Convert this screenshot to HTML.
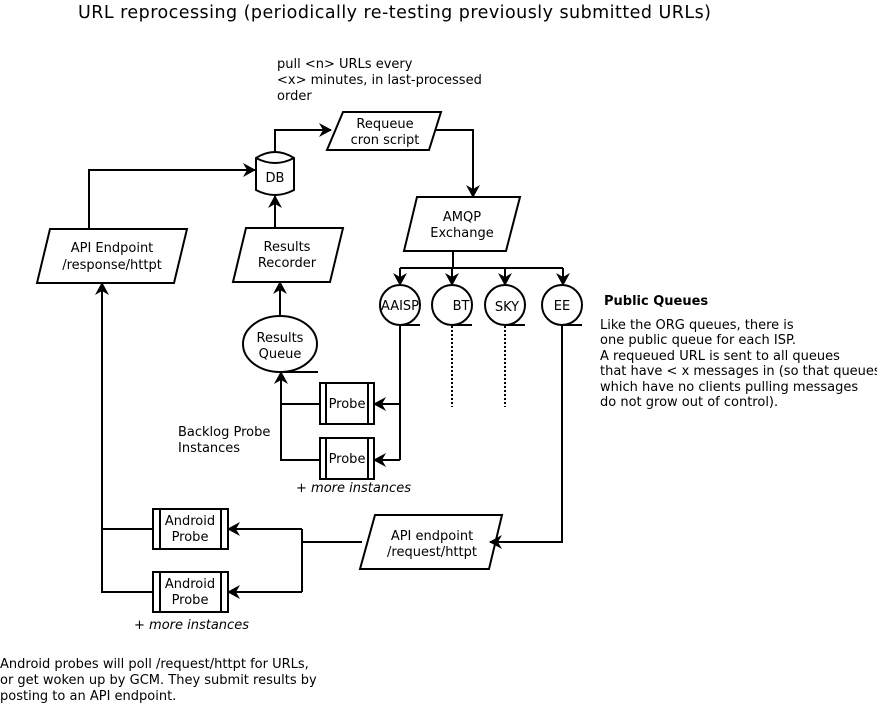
<!DOCTYPE html>
<html><head><meta charset="utf-8"><style>
html,body{margin:0;padding:0;background:#fff;}
svg{display:block;}
text{font-family:"DejaVu Sans","Liberation Sans",sans-serif;font-size:13px;fill:#000;}
</style></head><body>
<svg width="877" height="705" viewBox="0 0 877 705" xmlns="http://www.w3.org/2000/svg">
<defs>
<marker id="a" markerWidth="14" markerHeight="14" refX="12" refY="7" orient="auto" markerUnits="userSpaceOnUse">
<path d="M0,0 L13,7 L0,14 L4,7 Z" fill="#000"/>
</marker>
</defs>
<text x="78" y="18" style="font-size:17.5px" textLength="633">URL reprocessing (periodically re-testing previously submitted URLs)</text>
<text x="277" y="68">pull &lt;n&gt; URLs every</text>
<text x="277" y="84">&lt;x&gt; minutes, in last-processed</text>
<text x="277" y="100">order</text>

<g fill="none" stroke="#000" stroke-width="2">
<path d="M256,158 Q275,146 294,158 L294,190 Q275,200 256,190 Z" fill="#fff"/>
<path d="M256,158 Q275,168 294,158"/>
<polygon points="343,112 441,112 429,150 327,150" fill="#fff"/>
<polygon points="417,197 520,197 506,251 404,251" fill="#fff"/>
<polygon points="246,228 343,228 330,282 233,282" fill="#fff"/>
<polygon points="50,229 187,229 174,283 37,283" fill="#fff"/>
<polygon points="375,515 502,515 489,569 360,569" fill="#fff"/>
<circle cx="400" cy="305" r="20"/><path d="M400,325 H420"/>
<circle cx="452" cy="305" r="20"/><path d="M452,325 H472"/>
<circle cx="505" cy="305" r="20"/><path d="M505,325 H525"/>
<circle cx="562" cy="305" r="20"/><path d="M562,325 H582"/>
<ellipse cx="280" cy="344" rx="37" ry="28"/><path d="M280,372 H318"/>
<rect x="320" y="383" width="54" height="41"/><path d="M326,383 V424 M368,383 V424"/>
<rect x="320" y="438" width="54" height="41"/><path d="M326,438 V479 M368,438 V479"/>
<rect x="153" y="509" width="75" height="40"/><path d="M160,509 V549 M221,509 V549"/>
<rect x="153" y="572" width="75" height="40"/><path d="M160,572 V612 M221,572 V612"/>

<path d="M89,228 V170 H255" marker-end="url(#a)"/>
<path d="M275,152 V130 H331" marker-end="url(#a)"/>
<path d="M436,130 H473 V197" marker-end="url(#a)"/>
<path d="M453,251 V268"/>
<path d="M400,268 H563"/>
<path d="M400,268 V285" marker-end="url(#a)"/>
<path d="M452,268 V285" marker-end="url(#a)"/>
<path d="M505,268 V285" marker-end="url(#a)"/>
<path d="M563,268 V285" marker-end="url(#a)"/>
<path d="M400,325 V460"/>
<path d="M400,404 H374" marker-end="url(#a)"/>
<path d="M400,460 H374" marker-end="url(#a)"/>
<path d="M320,404 H281"/>
<path d="M320,460 H281 V372" marker-end="url(#a)"/>
<path d="M280,316 V282" marker-end="url(#a)"/>
<path d="M275,228 V196" marker-end="url(#a)"/>
<path d="M562,325 V542 H490" marker-end="url(#a)"/>
<path d="M362,542 H302"/>
<path d="M302,529 V592"/>
<path d="M302,529 H228" marker-end="url(#a)"/>
<path d="M302,592 H228" marker-end="url(#a)"/>
<path d="M153,529 H102"/>
<path d="M153,592 H102 V283" marker-end="url(#a)"/>
</g>
<g fill="none" stroke="#000" stroke-width="2" stroke-dasharray="2,2">
<path d="M452,326 V407"/>
<path d="M505,326 V407"/>
</g>

<g text-anchor="middle">
<text x="275" y="182">DB</text>
<text x="385" y="128">Requeue</text>
<text x="385" y="144">cron script</text>
<text x="462" y="221">AMQP</text>
<text x="462" y="237">Exchange</text>
<text x="287" y="251">Results</text>
<text x="287" y="267">Recorder</text>
<text x="112" y="252">API Endpoint</text>
<text x="112" y="269">/response/httpt</text>
<text x="432" y="540">API endpoint</text>
<text x="432" y="556">/request/httpt</text>
<text x="280" y="342">Results</text>
<text x="280" y="358">Queue</text>
<text x="400" y="310">AAISP</text>
<text x="461" y="310">BT</text>
<text x="507" y="311">SKY</text>
<text x="562" y="310">EE</text>
<text x="347" y="408">Probe</text>
<text x="347" y="463">Probe</text>
<text x="190" y="525">Android</text>
<text x="190" y="541">Probe</text>
<text x="190" y="588">Android</text>
<text x="190" y="604">Probe</text>
</g>
<text x="604" y="305" style="font-weight:bold">Public Queues</text>
<text x="600" y="329">Like the ORG queues, there is</text>
<text x="600" y="344">one public queue for each ISP.</text>
<text x="600" y="360">A requeued URL is sent to all queues</text>
<text x="600" y="375">that have &lt; x messages in (so that queues</text>
<text x="600" y="391">which have no clients pulling messages</text>
<text x="600" y="406">do not grow out of control).</text>
<text x="178" y="436">Backlog Probe</text>
<text x="178" y="452">Instances</text>
<text x="296" y="492" style="font-style:italic">+ more instances</text>
<text x="134" y="629" style="font-style:italic">+ more instances</text>
<text x="0" y="668">Android probes will poll /request/httpt for URLs,</text>
<text x="0" y="684">or get woken up by GCM.  They submit results by</text>
<text x="0" y="700">posting to an API endpoint.</text>
</svg>
</body></html>
